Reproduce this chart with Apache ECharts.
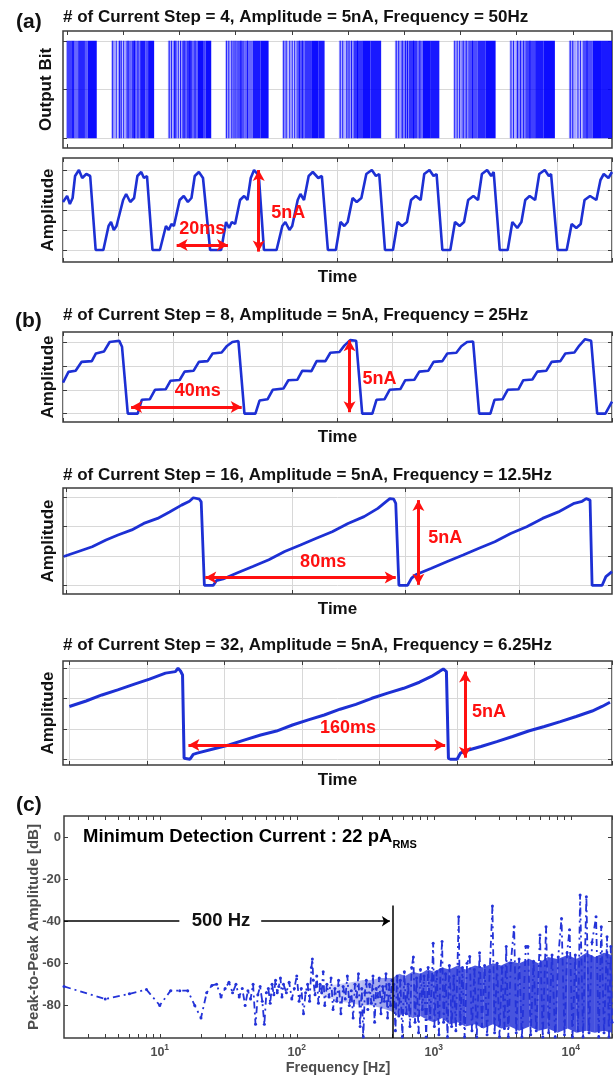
<!DOCTYPE html>
<html lang="en">
<head>
  <meta charset="UTF-8">
  <title>Current step waveforms and noise spectrum</title>
  <script src="https://cdn.jsdelivr.net/npm/echarts@6/dist/echarts.min.js"></script>
  <style>
    html, body { margin: 0; padding: 0; background: #fff; }
    #chart { width: 616px; height: 1076px; }
  </style>
</head>
<body>
  <div id="chart"></div>

  <script type="text/javascript">

    // ---- data ----

    // output bit stream of (a): [start ms, end ms, pulse density]
    const bitSegments = [
      [1.3, 3, 0.75], [3, 4.2, 0.9], [4.2, 5.5, 0.6], [5.5, 8, 0.85], [8, 9, 0.65], [9, 12.3, 0.95],
      [17.6, 19, 0.35], [19, 20, 0.2], [20, 21.5, 0.4], [21.5, 22.8, 0.25], [22.8, 25, 0.6], [25, 26.5, 0.8], [26.5, 28.1, 0.55], [28.1, 30, 0.9], [30, 31, 0.7], [31, 33.2, 0.95],
      [38.2, 40, 0.3], [40, 41.5, 0.45], [41.5, 43.2, 0.25], [43.2, 45, 0.65], [45, 47, 0.8], [47, 49, 0.6], [49, 51, 0.95], [51, 52, 0.75], [52, 54, 0.95],
      [59.1, 61, 0.3], [61, 63.4, 0.4], [63.4, 66, 0.7], [66, 69.1, 0.6], [69.1, 72, 0.9], [72, 74.9, 0.95],
      [79.9, 82, 0.35], [82, 85, 0.25], [85, 88, 0.65], [88, 90.7, 0.8], [90.7, 93, 0.95], [93, 95.3, 0.9],
      [100.5, 103, 0.3], [103, 105.8, 0.4], [105.8, 109, 0.8], [109, 112, 0.95], [112, 115.9, 0.9],
      [120.9, 123, 0.35], [123, 126, 0.5], [126, 129, 0.8], [129, 131, 0.6], [131, 134, 0.95], [134, 137.1, 0.9],
      [142.2, 145, 0.3], [145, 147.6, 0.45], [147.6, 151, 0.7], [151, 154, 0.85], [154, 157.6, 0.95],
      [162.7, 165, 0.3], [165, 168.4, 0.45], [168.4, 172, 0.75], [172, 175, 0.9], [175, 179.2, 0.95],
      [184.3, 187, 0.35], [187, 189.3, 0.25], [189.3, 193, 0.7], [193, 196, 0.95], [196, 200, 0.9]
    ];
    // single bit pulses that stand out inside the lighter stretches [ms]
    const bitPulses = [
      18.1, 19.4, 20.6, 21.2, 22.1, 23.7, 26.0, 27.3,
      38.7, 39.5, 40.6, 41.1, 42.0, 42.8, 44.1, 46.2, 48.1,
      59.6, 60.4, 61.5, 62.3, 63.0, 64.8, 67.2,
      80.4, 81.3, 82.6, 83.5, 84.4, 86.1, 87.2,
      101.0, 101.9, 103.4, 104.2, 105.1, 107.3,
      121.4, 122.3, 123.6, 124.8, 125.5, 127.7, 130.0,
      142.7, 143.6, 144.5, 145.8, 146.9, 149.2,
      163.2, 164.1, 165.6, 166.7, 167.8, 170.1,
      184.8, 185.7, 187.6, 188.5, 190.9
    ];
    const bitTicks = [1.5, 22.1, 42.3, 62.9, 83.6, 103.8, 124.3, 144.7, 165.3, 185.8];

    // (a) 4 steps, 50 Hz: [ms, level]
    const ampA = [
      [0, 2.4], [1.5, 2.7], [2.5, 2.3], [3.5, 2.6], [4.4, 3.7], [5.8, 4.0], [7, 3.6], [8.5, 3.8], [9.9, 3.7], [11.9, 0],
      [14.7, 0], [16.6, 1.2], [17.5, 1.4], [18.5, 1.0], [19.5, 1.2], [21.9, 2.5], [23, 2.8], [24.5, 2.4], [25.9, 2.6], [27.1, 3.7], [28.5, 3.9], [29.5, 3.6], [30.6, 3.7], [32.6, 0],
      [35.3, 0], [37.5, 1.2], [38.5, 1.0], [39.5, 1.3], [40.4, 1.2], [42.5, 2.5], [44, 2.7], [45.5, 2.4], [46.8, 2.6], [48, 3.7], [49.5, 3.9], [51, 3.6], [51.6, 3.7], [53.6, 0],
      [57.6, 0], [59.4, 1.4], [60.5, 1.1], [61.5, 1.4], [62.7, 1.3], [64.5, 2.5], [66, 2.7], [67.2, 2.5], [68.4, 3.6], [69.6, 4.0], [70.8, 3.8], [71.4, 3.6], [73.2, 0],
      [77.8, 0], [79.9, 1.2], [81, 1.4], [82.5, 1.0], [83.5, 1.2], [85.5, 2.5], [86.5, 2.8], [87.8, 2.5], [89.5, 3.7], [91, 3.9], [93, 3.6], [94.3, 3.7], [96.5, 0],
      [99.4, 0], [101.1, 1.4], [102.5, 1.2], [103.7, 1.4], [105.5, 2.6], [107, 2.4], [108.7, 2.6], [110.5, 3.8], [112.5, 4.0], [114, 3.7], [115.2, 3.8], [117.3, 0],
      [120.2, 0], [121.9, 1.4], [123.5, 1.2], [125.3, 1.4], [126.8, 2.5], [128.5, 2.7], [130.3, 2.5], [131.6, 3.8], [133.5, 4.0], [135, 3.7], [136.1, 3.8], [138.2, 0],
      [141.1, 0], [142.8, 1.4], [144.5, 1.2], [146.1, 1.4], [147.6, 2.5], [149.5, 2.7], [151.2, 2.5], [152.6, 3.8], [154.5, 4.0], [156, 3.7], [156.9, 3.9], [159.1, 0],
      [162, 0], [163.7, 1.4], [165.5, 1.1], [167, 1.4], [168.4, 2.5], [170, 2.7], [172, 2.5], [173.5, 3.8], [175.5, 4.0], [177, 3.7], [177.8, 3.8], [180.2, 0],
      [183.5, 0], [185.3, 1.3], [187, 1.1], [188.6, 1.3], [190, 2.5], [192, 2.7], [194.3, 2.5], [195.8, 3.5], [197, 3.8], [198.7, 3.6], [200, 3.9]
    ];

    // (b) 8 steps, 25 Hz
    const step8 = [
      [0, 1.3], [2, 1.75], [4.6, 1.8], [6.8, 2.17], [10.5, 2.2], [12, 2.52], [14.9, 2.6], [17, 3.0], [20.5, 3.05], [21.5, 2.8], [23.6, 0],
      [27.2, 0], [28.7, 0.58], [31.6, 0.6], [33.5, 1.0], [37.4, 1.02], [39.2, 1.38], [42.5, 1.41], [44.3, 1.76], [47.6, 1.8], [49.5, 2.17], [52.7, 2.2], [54.5, 2.52], [57.8, 2.56], [59.6, 2.82], [61.7, 3.0], [63.9, 3.04], [64.6, 3.0], [66.1, 0],
      [70.1, 0], [71.6, 0.55], [74.5, 0.6], [76.4, 1.0], [80.3, 1.05], [82.1, 1.4], [85.4, 1.42], [87.2, 1.8], [90.5, 1.78], [92.4, 2.2], [95.6, 2.2], [97.4, 2.55], [100.7, 2.58], [102.5, 2.85], [104.6, 3.08], [106.8, 3.05], [107.5, 3.0], [109.0, 0],
      [112.7, 0], [114.2, 0.58], [117.1, 0.6], [119.0, 1.0], [122.9, 1.03], [124.7, 1.4], [128.0, 1.42], [129.8, 1.76], [133.1, 1.8], [135.0, 2.17], [138.2, 2.2], [140.0, 2.52], [143.3, 2.55], [145.1, 2.82], [147.2, 3.0], [149.4, 3.02], [150.1, 2.95], [151.6, 0],
      [155.7, 0], [157.2, 0.58], [160.1, 0.6], [162.0, 1.0], [165.9, 1.02], [167.7, 1.4], [171.0, 1.43], [172.8, 1.76], [176.1, 1.8], [178.0, 2.17], [181.2, 2.2], [183.0, 2.52], [186.3, 2.56], [188.1, 2.85], [190.2, 3.12], [192.4, 3.05], [193.1, 3.0], [194.6, 0],
      [197.6, 0], [200, 0.5]
    ];

    // 16 steps, 12.5 Hz
    const step16 = [
      [-1.2, 0.98], [5.3, 1.15], [11.4, 1.31], [17.5, 1.54], [22.8, 1.71], [28.9, 1.88], [34.2, 2.1], [40.3, 2.27], [45.6, 2.49], [50.9, 2.72], [54.4, 2.85], [56.1, 2.97], [58.8, 2.92], [59.6, 2.83], [61.0, 0],
      [64.9, 0], [66.3, 0.16], [69.3, 0.22], [75.4, 0.42], [82.4, 0.64], [89.5, 0.87], [96.5, 1.15], [103.5, 1.37], [110.5, 1.6], [117.5, 1.82], [124.5, 2.1], [131.6, 2.33], [137.7, 2.61], [141.2, 2.83], [143.0, 2.94], [144.7, 2.92], [145.6, 2.78], [147.0, 0],
      [150.8, 0], [152.6, 0.25], [154.4, 0.36], [161.4, 0.58], [168.4, 0.81], [175.4, 1.03], [182.4, 1.26], [189.4, 1.48], [196.4, 1.76], [203.5, 1.99], [210.5, 2.27], [217.5, 2.49], [224.5, 2.78], [228.0, 2.85], [229.8, 2.94], [231.5, 2.89], [232.4, 0],
      [236.8, 0], [238.5, 0.3], [241.2, 0.47]
    ];

    // 32 steps, 6.25 Hz
    const step32 = [
      [0, 1.74], [10.8, 1.92], [21.0, 2.12], [31.2, 2.29], [41.5, 2.47], [51.7, 2.64], [62.0, 2.84], [68.4, 2.89], [70.1, 3.0], [71.7, 2.91], [73.0, 2.78], [74.0, 0.03], [74.8, 0],
      [77.8, 0], [79.9, 0.16], [82.4, 0.2], [92.7, 0.34], [102.9, 0.47], [113.2, 0.64], [123.4, 0.8], [133.6, 0.93], [143.9, 1.13], [154.1, 1.3], [164.4, 1.46], [174.6, 1.65], [184.8, 1.81], [195.1, 2.01], [205.3, 2.18], [215.6, 2.34], [225.8, 2.54], [233.5, 2.73], [238.6, 2.89], [241.2, 2.98], [243.2, 2.89], [244.5, 0.03], [245.8, 0],
      [250.1, 0], [252.2, 0.2], [255.2, 0.27], [265.5, 0.42], [275.7, 0.58], [285.9, 0.75], [296.2, 0.93], [306.4, 1.08], [316.7, 1.24], [326.9, 1.41], [337.2, 1.59], [343.6, 1.74], [348.7, 1.88]
    ];

    // red markers: horizontal period arrow, vertical 5nA arrow, label positions
    const annA = { h: [[41.4, 0.25], [60.1, 0.25]], v: [[71.3, 4.0], [71.3, -0.08]], texts: [[50.7, 1.05, '20ms'], [82.1, 1.83, '5nA']] };
    const ann8 = { h: [[24.8, 0.28], [65.1, 0.28]], v: [[104.4, 3.07], [104.4, 0.06]], texts: [[49.1, 0.93, '40ms'], [115.3, 1.44, '5nA']] };
    const ann16 = { h: [[61.4, 0.27], [145.6, 0.27]], v: [[155.6, 2.89], [155.6, 0.02]], texts: [[113.5, 0.79, '80ms'], [167.5, 1.6, '5nA']] };
    const ann32 = { h: [[76.8, 0.47], [242.4, 0.47]], v: [[255.2, 2.89], [255.2, 0.05]], texts: [[179.7, 1.02, '160ms'], [270.6, 1.55, '5nA']] };

    // (c) spectrum [Hz, dB]
    const spectrum = [
      [2, -71], [4, -77], [6, -74.5], [8, -72.5], [10, -80], [12, -73], [14, -73], [16, -73], [18, -80], [20, -86], [22, -74], [24, -70.5], [26, -70], [28, -76],
      [30, -72], [32, -69], [34, -74], [36, -70], [38, -76], [40, -72], [42, -80], [44, -73], [46, -77], [48, -70], [50, -89], [52, -75], [54, -71], [56, -78], [58, -89], [60, -74],
      [62, -72], [64, -79], [66, -70], [68, -75], [70, -68], [72, -74], [74, -71], [76, -67], [78, -76], [80, -70], [84, -74], [88, -69], [92, -77], [96, -72], [100, -66],
      [104, -78], [108, -72], [112, -84], [116, -74], [120, -70], [124, -78], [128, -62], [130, -58], [132, -68], [136, -75], [140, -66], [144, -79], [148, -70], [152, -74],
      [156, -64], [160, -80], [166, -70], [172, -76], [178, -67], [184, -82], [190, -72], [196, -78], [202, -68], [210, -84], [218, -71], [226, -77], [234, -66], [242, -80],
      [250, -73], [258, -86], [266, -70], [274, -76], [282, -65], [290, -90], [298, -72], [306, -95], [314, -74], [322, -68], [330, -82], [340, -70], [350, -79], [360, -66],
      [370, -88], [380, -72], [390, -76], [400, -67], [412, -84], [424, -71], [436, -78], [448, -65], [460, -86], [472, -70], [484, -80], [496, -68],
      [510, -70], [525, -92], [540, -66], [555, -85], [570, -68], [590, -95], [610, -64], [630, -84], [650, -70], [670, -90], [690, -62], [710, -57], [730, -88], [750, -67],
      [775, -93], [800, -63], [825, -82], [850, -66], [880, -95], [910, -62], [940, -86], [970, -68], [990, -50.5], [1010, -90], [1050, -64], [1090, -94], [1120, -63],
      [1150, -49.7], [1180, -88], [1220, -65], [1260, -95], [1300, -61], [1350, -90], [1400, -66], [1450, -92], [1520, -37.9], [1560, -89], [1620, -62], [1680, -95],
      [1750, -60], [1830, -56.8], [1900, -92], [1980, -63], [2060, -95], [2160, -55], [2250, -90], [2350, -61], [2450, -94], [2560, -64], [2680, -32.8], [2780, -93],
      [2900, -60], [3020, -95], [3150, -62], [3280, -91], [3380, -52], [3500, -95], [3650, -60], [3860, -42.6], [4000, -93], [4200, -58], [4400, -95], [4700, -52],
      [4870, -52], [5100, -94], [5350, -59], [5600, -92], [5960, -46.6], [6250, -95], [6600, -42.6], [6900, -93], [7300, -56], [7700, -95], [8100, -57], [8560, -38.7],
      [9000, -94], [9400, -55], [9800, -44], [10300, -95], [10800, -56], [11300, -92], [11700, -27.6], [12300, -95], [13000, -28.4], [13600, -93], [14300, -50],
      [15300, -37.9], [16000, -95], [16700, -42.6], [17500, -93], [18400, -47.4], [19000, -95], [19600, -52], [20000, -88]
    ];
    // dense core of the noise floor: frequency, upper and lower edge [dB], how solid it looks
    const bandFreq = [150, 200, 250, 300, 350, 400, 450, 500, 560, 620, 700, 800, 900, 1000, 1150, 1300, 1500, 1700,
      2000, 2300, 2700, 3100, 3600, 4200, 5000, 5800, 6800, 8000, 9500, 11000, 13000, 15000, 17500, 20000];
    const bandHigh = [-71, -70, -69, -68, -68, -67, -67, -67, -65, -66, -64, -65, -63, -64, -62, -63, -61, -63,
      -61, -62, -60, -61, -59, -60, -58, -60, -57, -58, -56, -58, -55, -57, -55, -56];
    const bandLow = [-75, -78, -79, -80, -80, -81, -82, -83, -85, -84, -86, -85, -87, -88, -86, -89, -88, -90,
      -89, -91, -89, -91, -90, -92, -90, -92, -91, -93, -91, -93, -92, -93, -92, -93];
    const bandDensity = [0.2, 0.25, 0.3, 0.35, 0.4, 0.45, 0.55, 0.65, 0.7, 0.72, 0.75, 0.78, 0.8, 0.82, 0.82, 0.83, 0.83, 0.83,
      0.84, 0.84, 0.84, 0.84, 0.84, 0.85, 0.85, 0.85, 0.85, 0.85, 0.85, 0.85, 0.85, 0.85, 0.85, 0.85];

    const freqTicks = [3, 4, 5, 6, 7, 8, 9, 10, 20, 30, 40, 50, 60, 70, 80, 90, 100, 200, 300, 400, 500, 600, 700, 800, 900,
      1000, 2000, 3000, 4000, 5000, 6000, 7000, 8000, 9000, 10000, 20000];
    const freqLabels = [10, 100, 1000, 10000];
    const freqLabelExp = ['1', '2', '3', '4'];
    const dbTicks = [-80, -60, -40, -20, 0];
    const cutoff = { freq: 500, top: -32.5, arrowY: -40, leftEnd: 13.9, rightStart: 55, rightEnd: 478, textAt: 28 };

    // ---- styling ----
    const FONT = '"Liberation Sans", Arial, sans-serif';
    const WAVE = '#1d30d4';
    const SPEC = '#2433d8';
    const RED = '#ff1010';
    const EDGE = '#3c3c3c';
    const GRID_LINE = '#d8d8d8';
    const GRAY = '#4d4d4d';

    const boldText = (size, color) => ({ fontSize: size, fontWeight: 'bold', color: color || '#111', fontFamily: FONT });

    const grids = [
      { left: 63, right: 4, top: 31, height: 117 },
      { left: 63, right: 4, top: 158, height: 104 },
      { left: 63, right: 4, top: 332, height: 90 },
      { left: 63, right: 4, top: 488, height: 106 },
      { left: 63, right: 4, top: 661, height: 104 },
      { left: 64, right: 4, top: 816, height: 222 }
    ].map(g => ({ ...g, show: true, borderColor: EDGE, borderWidth: 1.5, backgroundColor: 'transparent' }));

    const xAxes = [];
    const yAxes = [];

    function addAxes(gi, x, y) {
      ['bottom', 'top'].forEach((pos, k) => {
        xAxes.push({
          type: x.type || 'value', logBase: 10, gridIndex: gi, position: pos, min: x.min, max: x.max,
          name: k === 0 ? (x.name || '') : '', nameLocation: 'middle', nameGap: x.nameGap, nameMoveOverlap: false,
          nameTextStyle: x.nameStyle,
          axisLine: { show: false, onZero: false },
          axisTick: { show: true, inside: true, length: 4, lineStyle: { color: EDGE }, customValues: x.ticks },
          axisLabel: k === 0 && x.label ? x.label : { show: false },
          splitLine: { show: k === 0 && !!x.grid, lineStyle: { color: GRID_LINE, width: 1 } }
        });
      });
      ['left', 'right'].forEach((pos, k) => {
        yAxes.push({
          type: 'value', gridIndex: gi, position: pos, min: y.min, max: y.max,
          name: k === 0 ? y.name : '', nameLocation: 'middle', nameGap: y.nameGap, nameMoveOverlap: false,
          nameTextStyle: y.nameStyle,
          axisLine: { show: false, onZero: false },
          axisTick: { show: true, inside: true, length: 4, lineStyle: { color: EDGE }, customValues: y.ticks },
          axisLabel: k === 0 && y.label ? y.label : { show: false },
          splitLine: { show: k === 0 && !!y.grid, lineStyle: { color: GRID_LINE, width: 1 } }
        });
      });
    }

    const timeName = { name: 'Time', nameGap: 7, nameStyle: boldText(17) };
    const ampName = { name: 'Amplitude', nameGap: 6, nameStyle: boldText(17) };

    addAxes(0, { min: 0, max: 200, ticks: bitTicks }, { min: -0.1, max: 1.1, ticks: [0, 0.5, 1], grid: true, name: 'Output Bit', nameGap: 8, nameStyle: boldText(17) });
    addAxes(1, { min: 0, max: 200, ticks: [0, 20, 40, 60, 80, 100, 120, 140, 160, 180, 200], grid: true, ...timeName }, { min: -0.6, max: 4.6, ticks: [0, 1, 2, 3, 4], grid: true, ...ampName });
    addAxes(2, { min: 0, max: 200, ticks: [0, 20, 40, 60, 80, 100, 120, 140, 160, 180, 200], grid: true, ...timeName }, { min: -0.35, max: 3.42, ticks: [0, 1, 2, 3], grid: true, ...ampName });
    addAxes(3, { min: -1.5, max: 241.2, ticks: [0, 50, 100, 150, 200], grid: true, ...timeName }, { min: -0.29, max: 3.3, ticks: [0, 1, 2, 3], grid: true, ...ampName });
    addAxes(4, { min: -4.1, max: 350, ticks: [0, 50, 100, 150, 200, 250, 300, 350], grid: true, ...timeName }, { min: -0.19, max: 3.24, ticks: [0, 1, 2, 3], grid: true, ...ampName });
    addAxes(5, {
      type: 'log', min: 2, max: 20000, ticks: freqTicks,
      name: 'Frequency [Hz]', nameGap: 22, nameStyle: boldText(14.5, GRAY),
      label: {
        show: true, customValues: freqLabels, margin: 5,
        formatter: v => '{b|10}{e|' + freqLabelExp[freqLabels.indexOf(v)] + '}',
        rich: {
          b: { ...boldText(12.5, GRAY), verticalAlign: 'bottom' },
          e: { ...boldText(8.5, GRAY), verticalAlign: 'bottom', padding: [0, 0, 7, 0] }
        }
      }
    }, {
      min: -95.5, max: 10, ticks: dbTicks,
      name: 'Peak-to-Peak Amplitude [dB]', nameGap: 23, nameStyle: boldText(15, GRAY),
      label: { show: true, customValues: dbTicks, margin: 3, ...boldText(13, GRAY) }
    });

    function redArrows(ann) {
      return {
        silent: true, symbol: ['arrow', 'arrow'], symbolSize: [9, 11], precision: 2,
        lineStyle: { color: RED, width: 3, type: 'solid' }, label: { show: false },
        data: [
          [{ coord: ann.h[0] }, { coord: ann.h[1] }],
          [{ coord: ann.v[0] }, { coord: ann.v[1] }]
        ]
      };
    }
    function redTexts(ann) {
      return {
        silent: true, symbol: 'circle', symbolSize: 0,
        label: { show: true, position: 'inside', formatter: p => p.name, ...boldText(18, RED) },
        data: ann.texts.map(t => ({ coord: [t[0], t[1]], name: t[2] }))
      };
    }
    function wave(panel, data, ann, width) {
      return {
        type: 'line', xAxisIndex: panel * 2, yAxisIndex: panel * 2, data,
        showSymbol: false, symbol: 'none',
        lineStyle: { color: WAVE, width }, itemStyle: { color: WAVE },
        markLine: redArrows(ann), markPoint: redTexts(ann)
      };
    }

    // one quadrilateral per stretch of the band, between neighbouring read points
    const bandRows = bandFreq.slice(0, -1).map((f, i) =>
      [f, bandLow[i], bandHigh[i], bandFreq[i + 1], bandLow[i + 1], bandHigh[i + 1], bandDensity[i]]);

    const series = [
      {
        type: 'custom', xAxisIndex: 0, yAxisIndex: 0, data: bitSegments,
        encode: { x: [0, 1], y: 2 },
        renderItem: (params, api) => {
          const a = api.coord([api.value(0), 1]);
          const b = api.coord([api.value(1), 0]);
          return {
            type: 'rect',
            shape: { x: a[0], y: a[1], width: b[0] - a[0], height: b[1] - a[1] },
            style: { fill: 'rgba(0,0,255,' + api.value(2) + ')' }
          };
        }
      },
      {
        type: 'custom', xAxisIndex: 0, yAxisIndex: 0, data: bitPulses.map(t => [t]),
        encode: { x: 0 },
        renderItem: (params, api) => {
          const a = api.coord([api.value(0), 1]);
          const b = api.coord([api.value(0), 0]);
          return {
            type: 'line',
            shape: { x1: a[0], y1: a[1], x2: b[0], y2: b[1] },
            style: { stroke: 'rgba(0,0,255,0.85)', lineWidth: 1 }
          };
        }
      },
      wave(1, ampA, annA, 2.6),
      wave(2, step8, ann8, 2.6),
      wave(3, step16, ann16, 2.8),
      wave(4, step32, ann32, 3),
      {
        type: 'custom', xAxisIndex: 10, yAxisIndex: 10, data: bandRows,
        encode: { x: [0, 3], y: [1, 2, 4, 5] },
        renderItem: (params, api) => {
          const pts = [
            api.coord([api.value(0), api.value(2)]),
            api.coord([api.value(3), api.value(5)]),
            api.coord([api.value(3), api.value(4)]),
            api.coord([api.value(0), api.value(1)])
          ];
          return {
            type: 'polygon', shape: { points: pts },
            style: { fill: SPEC, opacity: api.value(6) }
          };
        }
      },
      {
        type: 'line', xAxisIndex: 10, yAxisIndex: 10, data: spectrum,
        symbol: 'circle', symbolSize: 3, showSymbol: true,
        lineStyle: { color: SPEC, width: 1.8, type: [7, 4, 2, 4] }, itemStyle: { color: SPEC },
        markLine: {
          silent: true, symbolSize: 8, label: { show: false },
          lineStyle: { color: '#000', width: 1.5, type: 'solid' },
          data: [
            [{ coord: [cutoff.freq, -95.5], symbol: 'none' }, { coord: [cutoff.freq, cutoff.top], symbol: 'none' }],
            [{ coord: [2, cutoff.arrowY], symbol: 'none' }, { coord: [cutoff.leftEnd, cutoff.arrowY], symbol: 'none' }],
            [{ coord: [cutoff.rightStart, cutoff.arrowY], symbol: 'none' }, { coord: [cutoff.rightEnd, cutoff.arrowY], symbol: 'arrow' }]
          ]
        },
        markPoint: {
          silent: true, symbol: 'circle', symbolSize: 0,
          label: { show: true, position: 'inside', formatter: '500 Hz', ...boldText(18.5, '#111') },
          data: [{ coord: [cutoff.textAt, cutoff.arrowY] }]
        }
      }
    ];

    const titles = [
      { text: '(a)', left: 16, top: 12, size: 21 },
      { text: '# of Current Step = 4, Amplitude = 5nA, Frequency = 50Hz', left: 63, top: 9, size: 17 },
      { text: '(b)', left: 15, top: 311, size: 21 },
      { text: '# of Current Step = 8, Amplitude = 5nA, Frequency = 25Hz', left: 63, top: 307, size: 17 },
      { text: '# of Current Step = 16, Amplitude = 5nA, Frequency = 12.5Hz', left: 63, top: 467, size: 17 },
      { text: '# of Current Step = 32, Amplitude = 5nA, Frequency = 6.25Hz', left: 63, top: 637, size: 17 },
      { text: '(c)', left: 16, top: 795, size: 21 }
    ].map(t => ({ text: t.text, left: t.left, top: t.top, padding: 0, textStyle: boldText(t.size, '#111') }));

    const chart = echarts.init(document.getElementById('chart'), null, { renderer: 'canvas' });
    chart.setOption({
      animation: false,
      backgroundColor: '#fff',
      textStyle: { fontFamily: FONT },
      title: titles,
      grid: grids,
      xAxis: xAxes,
      yAxis: yAxes,
      graphic: [{
        type: 'text', left: 83, top: 827,
        style: {
          text: '{m|Minimum Detection Current : 22 pA}{s|RMS}',
          rich: {
            m: { ...boldText(18.5, '#111'), verticalAlign: 'bottom', padding: [0, 0, 4, 0] },
            s: { ...boldText(11, '#111'), verticalAlign: 'bottom' }
          }
        }
      }],
      series
    });
  </script>
</body>
</html>
